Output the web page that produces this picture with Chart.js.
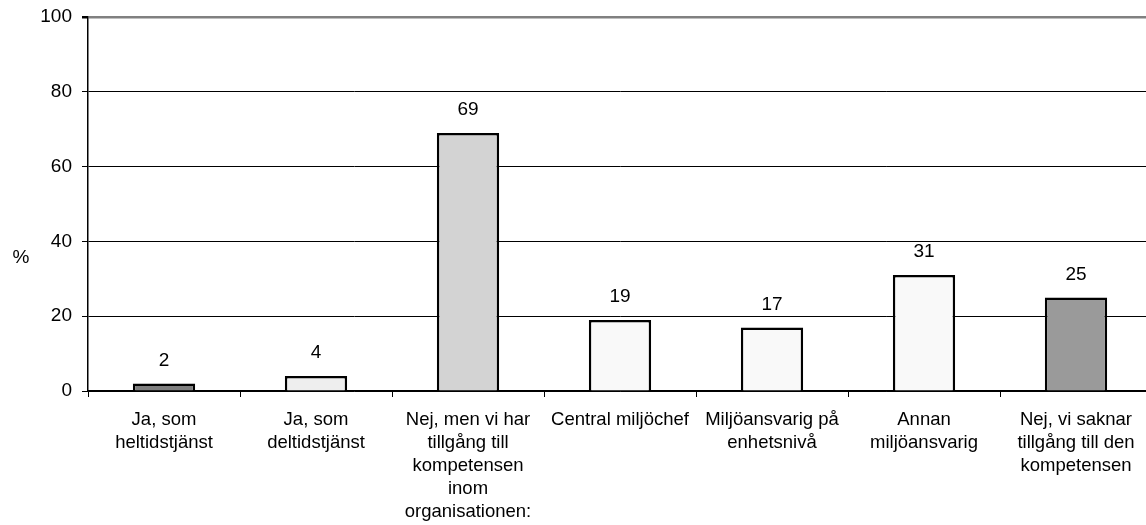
<!DOCTYPE html>
<html>
<head>
<meta charset="utf-8">
<script src="https://cdn.jsdelivr.net/npm/chart.js@4/dist/chart.umd.min.js"></script>
<style>
html,body{margin:0;padding:0;background:#fff;overflow:hidden;}
#wrap{width:1146px;height:525px;position:relative;overflow:hidden;}
</style>
</head>
<body>
<div id="wrap"><canvas id="c" width="1152" height="525"></canvas></div>
<script>
const categories = [
  ["Ja, som", "heltidstjänst"],
  ["Ja, som", "deltidstjänst"],
  ["Nej, men vi har", "tillgång till", "kompetensen", "inom", "organisationen:"],
  ["Central miljöchef"],
  ["Miljöansvarig på", "enhetsnivå"],
  ["Annan", "miljöansvarig"],
  ["Nej, vi saknar", "tillgång till den", "kompetensen"]
];
const values = [2, 4, 69, 19, 17, 31, 25];
const barColors = ["#7f7f7f", "#eeeeee", "#d3d3d3", "#f9f9f9", "#f9f9f9", "#f9f9f9", "#9a9a9a"];
const yTicks = [0, 20, 40, 60, 80, 100];
const yTitle = "%";

const FONT = "'Liberation Sans', Arial, sans-serif";

const valueLabels = {
  id: 'valueLabels',
  afterDatasetsDraw(chart) {
    const ctx = chart.ctx;
    const meta = chart.getDatasetMeta(0);
    ctx.save();
    ctx.font = "19px " + FONT;
    ctx.fillStyle = "#000";
    ctx.textAlign = "center";
    ctx.textBaseline = "middle";
    meta.data.forEach((bar, i) => {
      ctx.fillText(String(values[i]), bar.x, bar.y - 23);
    });
    ctx.restore();
  }
};

const yTitlePlugin = {
  id: 'yTitlePlugin',
  afterDraw(chart) {
    const ctx = chart.ctx;
    ctx.save();
    ctx.font = "19px " + FONT;
    ctx.fillStyle = "#000";
    ctx.textAlign = "center";
    ctx.textBaseline = "middle";
    ctx.fillText(yTitle, 21, 258);
    ctx.restore();
  }
};

new Chart(document.getElementById('c'), {
  type: 'bar',
  data: {
    labels: categories,
    datasets: [{
      data: values,
      backgroundColor: barColors,
      borderColor: "#000",
      borderWidth: 2.5,
      barPercentage: 0.41,
      categoryPercentage: 1.0
    }]
  },
  options: {
    responsive: false,
    animation: false,
    devicePixelRatio: 1,
    layout: { padding: { top: 17, right: 0, left: 0, bottom: 0 } },
    plugins: { legend: { display: false }, tooltip: { enabled: false } },
    scales: {
      x: {
        afterFit(s) { s.height = 134; s.paddingLeft = 0; s.paddingRight = 0; },
        grid: {
          offset: true,
          drawOnChartArea: false,
          drawTicks: true,
          tickLength: 6,
          color: "#000",
          lineWidth: 1
        },
        border: { display: true, color: "#000", width: 1.5 },
        ticks: {
          color: "#000",
          font: { family: FONT, size: 18.5, lineHeight: 1.25 },
          padding: 11,
          maxRotation: 0,
          autoSkip: false
        }
      },
      y: {
        min: 0, max: 100,
        afterFit(s) { s.width = 88; s.paddingTop = 0; s.paddingBottom = 0; },
        afterBuildTicks(s) { s.ticks = yTicks.map(v => ({ value: v })); },
        grid: {
          color: (c) => (c.tick && c.tick.value === 100) ? "#808080" : "#000",
          lineWidth: (c) => (c.tick && c.tick.value === 100) ? 2.5 : 1,
          tickLength: 6,
          tickColor: "#000"
        },
        border: { display: true, color: "#000", width: 1.5 },
        ticks: {
          color: "#000",
          font: { family: FONT, size: 19 },
          padding: 10
        }
      }
    }
  },
  plugins: [valueLabels, yTitlePlugin]
});
</script>
</body>
</html>
